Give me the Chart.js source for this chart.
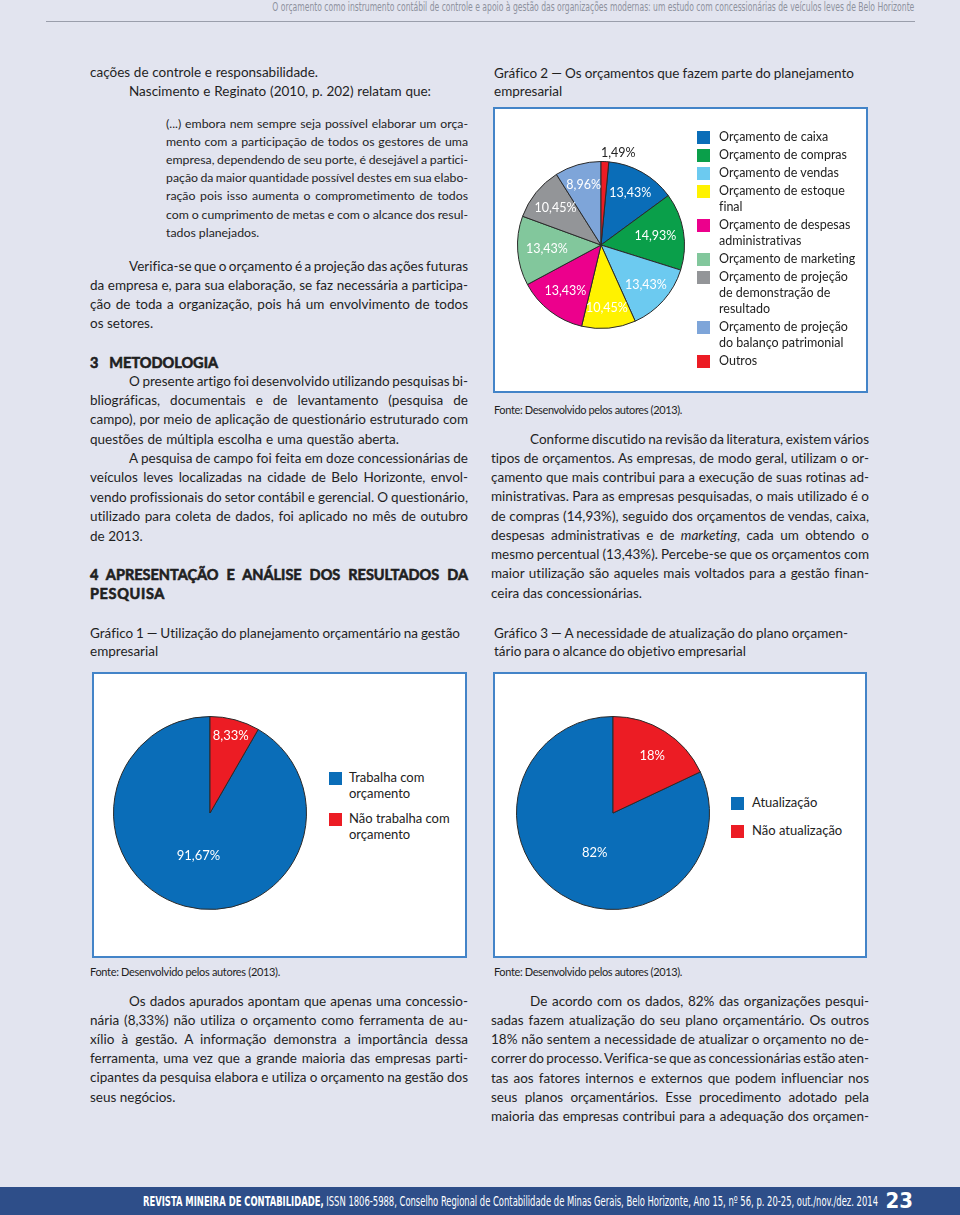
<!DOCTYPE html>
<html lang="pt-BR">
<head>
<meta charset="utf-8">
<title>Gráficos - orçamento em concessionárias</title>
<script src="https://cdn.jsdelivr.net/npm/chart.js@4.4.0/dist/chart.umd.min.js"></script>
<style>
  html, body { margin: 0; padding: 0; }
  body {
    width: 960px; height: 1215px; position: relative; overflow: hidden;
    background: #e2e4ef; color: #1f1f1f; font-family: Lato, "Open Sans", sans-serif;
    font-variant-ligatures: none;
  }
  .blk { position: absolute; font-size: 13.5px; line-height: 19.35px; }
  .blk div { white-space: nowrap; }
  .ind { padding-left: 39px; }
  .quote { font-size: 12.3px; line-height: 18.17px; }
  .head { font-weight: 700; font-size: 14.5px; -webkit-text-stroke: 0.6px #1f1f1f; }
  .fonte { font-size: 11px; line-height: 14px; }
  .box { position: absolute; background: #fff; border: 2px solid #4384c8; box-sizing: border-box; }
  canvas { position: absolute; }
  .legend { position: absolute; color: #222; }
  .legend .li { position: relative; white-space: nowrap; }
  .legend .sw { position: absolute; left: 0; }
  #topline { position: absolute; left: 46px; top: 21px; width: 869px; height: 1px; background: #9a9eab; }
  #runhead {
    position: absolute; right: 46px; top: 0.5px; line-height: 13px; font-size: 12px; color: #8e929e;
    font-family: "Liberation Sans Narrow", "DejaVu Sans Condensed", sans-serif; white-space: nowrap;
    transform-origin: right center;
  }
  #foot { position: absolute; left: 0; top: 1187px; width: 960px; height: 28px; background: #2e4e89; color: #fff;
    font-family: "Liberation Sans Narrow", "DejaVu Sans Condensed", sans-serif; }
  #foottxt { position: absolute; left: 143px; top: 0; line-height: 28px; font-size: 14px; white-space: nowrap; transform-origin: left center; }
  #foottxt b { font-weight: 700; }
  #pageno { position: absolute; right: 47px; top: 0; line-height: 27px; font-size: 22px; font-weight: 700; }
</style>
</head>
<body>

<div id="runhead">O orçamento como instrumento contábil de controle e apoio à gestão das organizações modernas: um estudo com concessionárias de veículos leves de Belo Horizonte</div>
<div id="topline"></div>

<!-- coluna esquerda -->
<div class="blk" style="left:90px;top:62.5px;width:378px;line-height:19.3px">
  <div class="j" data-w="228">cações de controle e responsabilidade.</div>
  <div class="j ind" data-w="302">Nascimento e Reginato (2010, p. 202) relatam que:</div>
</div>

<div class="blk quote" style="left:166px;top:114.8px;width:302px">
  <div class="j">(...) embora nem sempre seja possível elaborar um orça-</div>
  <div class="j">mento com a participação de todos os gestores de uma</div>
  <div class="j">empresa, dependendo de seu porte, é desejável a partici-</div>
  <div class="j">pação da maior quantidade possível destes em sua elabo-</div>
  <div class="j">ração pois isso aumenta o comprometimento de todos</div>
  <div class="j">com o cumprimento de metas e com o alcance dos resul-</div>
  <div>tados planejados.</div>
</div>

<div class="blk" style="left:90px;top:256.5px;width:378px;line-height:19.33px">
  <div class="j ind">Verifica-se que o orçamento é a projeção das ações futuras</div>
  <div class="j">da empresa e, para sua elaboração, se faz necessária a participa-</div>
  <div class="j">ção de toda a organização, pois há um envolvimento de todos</div>
  <div>os setores.</div>
</div>

<div class="blk head" style="left:90px;top:352.5px;width:378px">
  <div class="j" data-w="128">3 METODOLOGIA</div>
</div>

<div class="blk" style="left:90px;top:371.5px;width:378px;line-height:19.375px">
  <div class="j ind">O presente artigo foi desenvolvido utilizando pesquisas bi-</div>
  <div class="j">bliográficas, documentais e de levantamento (pesquisa de</div>
  <div class="j">campo), por meio de aplicação de questionário estruturado com</div>
  <div class="j" data-w="309">questões de múltipla escolha e uma questão aberta.</div>
  <div class="j ind">A pesquisa de campo foi feita em doze concessionárias de</div>
  <div class="j">veículos leves localizadas na cidade de Belo Horizonte, envol-</div>
  <div class="j">vendo profissionais do setor contábil e gerencial. O questionário,</div>
  <div class="j">utilizado para coleta de dados, foi aplicado no mês de outubro</div>
  <div>de 2013.</div>
</div>

<div class="blk head" style="left:90px;top:564.5px;width:378px;line-height:19px">
  <div class="j">4 APRESENTAÇÃO E ANÁLISE DOS RESULTADOS DA</div>
  <div class="j" data-w="75">PESQUISA</div>
</div>

<div class="blk" style="left:90px;top:623.5px;width:378px;line-height:18px">
  <div class="j" data-w="370">Gráfico 1 — Utilização do planejamento orçamentário na gestão</div>
  <div>empresarial</div>
</div>

<div class="box" style="left:92px;top:672px;width:375px;height:286px"></div>
<canvas id="g1" width="210" height="210" style="left:105px;top:708px"></canvas>
<div class="legend" id="lg1"></div>

<div class="blk fonte" style="left:90px;top:965px;width:378px">
  <div class="j" data-w="190">Fonte: Desenvolvido pelos autores (2013).</div>
</div>

<div class="blk" style="left:90px;top:991.5px;width:378px;line-height:19.2px">
  <div class="j ind">Os dados apurados apontam que apenas uma concessio-</div>
  <div class="j">nária (8,33%) não utiliza o orçamento como ferramenta de au-</div>
  <div class="j">xílio à gestão. A informação demonstra a importância dessa</div>
  <div class="j">ferramenta, uma vez que a grande maioria das empresas parti-</div>
  <div class="j">cipantes da pesquisa elabora e utiliza o orçamento na gestão dos</div>
  <div>seus negócios.</div>
</div>

<!-- coluna direita -->
<div class="blk" style="left:494px;top:63.5px;width:378px;line-height:18px">
  <div class="j" data-w="360">Gráfico 2 — Os orçamentos que fazem parte do planejamento</div>
  <div>empresarial</div>
</div>

<div class="box" style="left:493px;top:107px;width:375px;height:286px"></div>
<canvas id="g2" width="240" height="240" style="left:481px;top:125px"></canvas>
<div class="legend" id="lg2"></div>

<div class="blk fonte" style="left:494px;top:403px;width:378px">
  <div class="j" data-w="188">Fonte: Desenvolvido pelos autores (2013).</div>
</div>

<div class="blk" style="left:491px;top:429.5px;width:378px;line-height:19.25px">
  <div class="j ind">Conforme discutido na revisão da literatura, existem vários</div>
  <div class="j">tipos de orçamentos. As empresas, de modo geral, utilizam o or-</div>
  <div class="j">çamento que mais contribui para a execução de suas rotinas ad-</div>
  <div class="j">ministrativas. Para as empresas pesquisadas, o mais utilizado é o</div>
  <div class="j">de compras (14,93%), seguido dos orçamentos de vendas, caixa,</div>
  <div class="j">despesas administrativas e de <i>marketing</i>, cada um obtendo o</div>
  <div class="j">mesmo percentual (13,43%). Percebe-se que os orçamentos com</div>
  <div class="j">maior utilização são aqueles mais voltados para a gestão finan-</div>
  <div>ceira das concessionárias.</div>
</div>

<div class="blk" style="left:494px;top:623.5px;width:378px;line-height:18px">
  <div class="j" data-w="354">Gráfico 3 — A necessidade de atualização do plano orçamen-</div>
  <div class="j" data-w="252">tário para o alcance do objetivo empresarial</div>
</div>

<div class="box" style="left:493px;top:672px;width:374px;height:286px"></div>
<canvas id="g3" width="210" height="210" style="left:508px;top:708px"></canvas>
<div class="legend" id="lg3"></div>

<div class="blk fonte" style="left:494px;top:965px;width:378px">
  <div class="j" data-w="188">Fonte: Desenvolvido pelos autores (2013).</div>
</div>

<div class="blk" style="left:491px;top:991.5px;width:378px;line-height:19.33px">
  <div class="j ind">De acordo com os dados, 82% das organizações pesqui-</div>
  <div class="j">sadas fazem atualização do seu plano orçamentário. Os outros</div>
  <div class="j">18% não sentem a necessidade de atualizar o orçamento no de-</div>
  <div class="j">correr do processo. Verifica-se que as concessionárias estão aten-</div>
  <div class="j">tas aos fatores internos e externos que podem influenciar nos</div>
  <div class="j">seus planos orçamentários. Esse procedimento adotado pela</div>
  <div class="j">maioria das empresas contribui para a adequação dos orçamen-</div>
</div>

<div id="foot">
  <span id="foottxt"><b>REVISTA MINEIRA DE CONTABILIDADE,</b> ISSN 1806-5988, Conselho Regional de Contabilidade de Minas Gerais, Belo Horizonte, Ano 15, nº 56, p. 20-25, out./nov./dez. 2014</span>
  <span id="pageno">23</span>
</div>

<script>
'use strict';

// Gráfico 1 - uso do planejamento orçamentário
const g1Labels = [['Trabalha com', 'orçamento'], ['Não trabalha com', 'orçamento']];
const g1Values = [91.67, 8.33];

// Gráfico 2 - orçamentos que fazem parte do planejamento
const g2Labels = [
  'Orçamento de caixa',
  'Orçamento de compras',
  'Orçamento de vendas',
  ['Orçamento de estoque', 'final'],
  ['Orçamento de despesas', 'administrativas'],
  'Orçamento de marketing',
  ['Orçamento de projeção', 'de demonstração de', 'resultado'],
  ['Orçamento de projeção', 'do balanço patrimonial'],
  'Outros'
];
const g2Values = [13.43, 14.93, 13.43, 10.45, 13.43, 13.43, 10.45, 8.96, 1.49];

// Gráfico 3 - atualização do plano orçamentário
const g3Labels = ['Atualização', 'Não atualização'];
const g3Values = [82, 18];

const blue = '#0a6db8';
const red = '#ec1c24';
const g2Colors = ['#0a6db8', '#0a9f4a', '#6ccaf0', '#fff200', '#ec008c', '#82c79c', '#939598', '#7ea5d9', '#ec1c24'];

Chart.defaults.font.family = 'Lato';

function pct(v) {
  return Number.isInteger(v) ? v + '%' : v.toFixed(2).replace('.', ',') + '%';
}

// percentages written on the slices
const sliceLabels = {
  id: 'sliceLabels',
  afterDatasetsDraw(chart, args, opts) {
    const ctx = chart.ctx;
    const values = chart.data.datasets[0].data;
    ctx.save();
    ctx.font = opts.font;
    ctx.textAlign = 'center';
    ctx.textBaseline = 'middle';
    chart.getDatasetMeta(0).data.forEach(function (arc, i) {
      const p = arc.getProps(['x', 'y', 'startAngle', 'endAngle', 'outerRadius'], true);
      const mid = (p.startAngle + p.endAngle) / 2;
      const r = p.outerRadius * opts.radius[i];
      const x = p.x + Math.cos(mid) * r + (opts.dx ? opts.dx[i] : 0);
      const y = p.y + Math.sin(mid) * r + (opts.dy ? opts.dy[i] : 0);
      ctx.fillStyle = opts.colors ? opts.colors[i] : '#fff';
      ctx.fillText(pct(values[i]), x, y);
    });
    ctx.restore();
  }
};

function pie(id, labels, values, colors, pad, rotation, labelOpts) {
  return new Chart(document.getElementById(id), {
    type: 'pie',
    data: {
      labels: labels,
      datasets: [{
        data: values,
        backgroundColor: colors,
        borderColor: '#2a2a2a',
        borderWidth: 1,
        hoverOffset: 0
      }]
    },
    options: {
      responsive: false,
      animation: false,
      rotation: rotation,
      layout: { padding: pad },
      plugins: {
        legend: { display: false },
        tooltip: { enabled: false },
        sliceLabels: labelOpts
      }
    },
    plugins: [sliceLabels]
  });
}

// the small slice starts at twelve o'clock, so the first legend slice follows it
pie('g1', g1Labels, g1Values, [blue, red], 8, g1Values[1] * 3.6,
  { font: '13px Lato', radius: [0.46, 0.83] });
pie('g2', g2Labels, g2Values, g2Colors, 36, g2Values[8] * 3.6,
  { font: '12.5px Lato', radius: [0.71, 0.66, 0.72, 0.755, 0.70, 0.65, 0.70, 0.75, 1.10],
    dx: [0, 0, 0, 0, 0, 0, 0, 0, 13],
    colors: ['#fff', '#fff', '#fff', '#fff', '#fff', '#fff', '#fff', '#fff', '#222'] });
pie('g3', g3Labels, g3Values, [blue, red], 8, g3Values[1] * 3.6,
  { font: '13px Lato', radius: [0.49, 0.70], dx: [7, 3] });

function htmlLegend(id, labels, colors, o) {
  const box = document.getElementById(id);
  box.style.left = o.left + 'px';
  box.style.top = o.top + 'px';
  labels.forEach(function (lab, i) {
    const lines = Array.isArray(lab) ? lab : [lab];
    const item = document.createElement('div');
    item.className = 'li';
    item.style.paddingLeft = o.textLeft + 'px';
    item.style.marginBottom = o.gap + 'px';
    item.style.lineHeight = o.lineHeight + 'px';
    item.style.fontSize = o.size + 'px';
    const sw = document.createElement('span');
    sw.className = 'sw';
    sw.style.background = colors[i];
    sw.style.top = o.swTop + 'px';
    sw.style.width = o.sw + 'px';
    sw.style.height = o.sw + 'px';
    item.appendChild(sw);
    item.insertAdjacentHTML('beforeend', lines.join('<br>'));
    box.appendChild(item);
  });
}

htmlLegend('lg1', g1Labels, [blue, red], { left: 329, top: 768.5, textLeft: 20, gap: 9, lineHeight: 16, size: 13, sw: 13, swTop: 3.5 });
htmlLegend('lg2', g2Labels, g2Colors, { left: 697, top: 128.8, textLeft: 22, gap: 2.5, lineHeight: 15.7, size: 12.5, sw: 13, swTop: 2 });
htmlLegend('lg3', g3Labels, [blue, red], { left: 731, top: 793.5, textLeft: 21, gap: 12, lineHeight: 16, size: 13, sw: 13, swTop: 3.5 });

// justify each typeset line to its column width
function fitLines() {
  document.querySelectorAll('.j').forEach(function (el) {
    const cs = getComputedStyle(el);
    const target = el.dataset.w ? +el.dataset.w : el.clientWidth - parseFloat(cs.paddingLeft);
    const range = document.createRange();
    range.selectNodeContents(el);
    const w = range.getBoundingClientRect().width;
    const text = el.textContent;
    const spaces = (text.match(/ /g) || []).length;
    let ws = spaces ? (target - w) / spaces : 0;
    if (ws < -1.5 || !spaces) {
      el.style.letterSpacing = ((target - w) / text.length) + 'px';
    } else {
      el.style.wordSpacing = ws + 'px';
    }
  });
  const head = document.getElementById('runhead');
  head.style.transform = 'scaleX(' + (642 / head.getBoundingClientRect().width) + ')';
  const foot = document.getElementById('foottxt');
  foot.style.transform = 'scaleX(' + (735 / foot.getBoundingClientRect().width) + ')';
}

document.fonts.ready.then(fitLines);
</script>
</body>
</html>
